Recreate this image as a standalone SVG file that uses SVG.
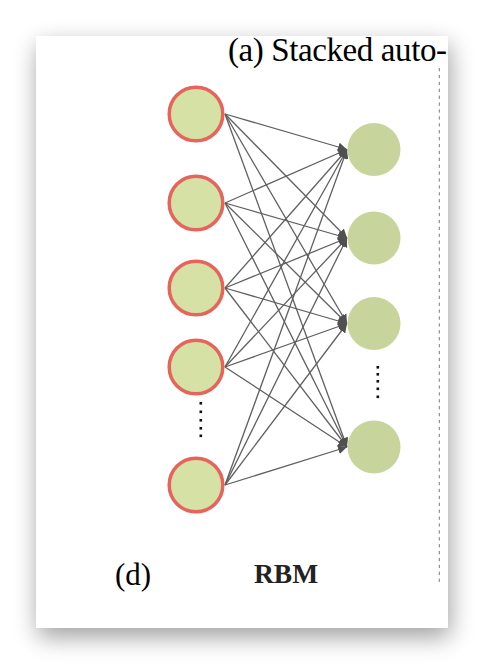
<svg xmlns="http://www.w3.org/2000/svg" width="484" height="664" viewBox="0 0 484 664">
  <defs>
    <filter id="shadow" x="-25%" y="-25%" width="150%" height="150%">
      <feGaussianBlur in="SourceAlpha" stdDeviation="12"/>
      <feOffset dx="2" dy="9" result="b"/>
      <feComponentTransfer><feFuncA type="linear" slope="0.38"/></feComponentTransfer>
      <feMerge><feMergeNode/><feMergeNode in="SourceGraphic"/></feMerge>
    </filter>
    <clipPath id="cardClip"><rect x="36" y="36" width="412" height="592"/></clipPath>
    <marker id="arr" markerUnits="userSpaceOnUse" markerWidth="10" markerHeight="10" refX="9" refY="5" orient="auto">
      <path d="M0,0.5 L9,5 L0,9.5 z" fill="#505050"/>
    </marker>
    <style>
      .vis { fill: #d6e1a6; stroke: #e6645c; stroke-width: 3.5; }
      .hid { fill: #c7d59c; stroke: none; }
      .edge { stroke: #606060; stroke-width: 1.3; fill: none; marker-end: url(#arr); }
      .dot { fill: #111; }
      .serif { font-family: "Liberation Serif", "Times New Roman", serif; }
    </style>
  </defs>
  <rect x="0" y="0" width="484" height="664" fill="#ffffff"/>
  <rect x="36" y="36" width="412" height="592" fill="#ffffff" filter="url(#shadow)"/>
  <g clip-path="url(#cardClip)">
    <text class="serif" x="228" y="60.5" font-size="33" fill="#000" textLength="219" lengthAdjust="spacing">(a) Stacked auto-</text>
    <line x1="439.3" y1="68" x2="439.3" y2="585" stroke="#7a7a7a" stroke-width="1" stroke-dasharray="3.3,3.6"/>

    <g id="connectors">
      <line class="edge" x1="225" y1="114" x2="347" y2="149.5"/>
      <line class="edge" x1="225" y1="114" x2="347" y2="238"/>
      <line class="edge" x1="225" y1="114" x2="347" y2="323.5"/>
      <line class="edge" x1="225" y1="114" x2="347" y2="447"/>
      <line class="edge" x1="225" y1="203" x2="347" y2="149.5"/>
      <line class="edge" x1="225" y1="203" x2="347" y2="238"/>
      <line class="edge" x1="225" y1="203" x2="347" y2="323.5"/>
      <line class="edge" x1="225" y1="203" x2="347" y2="447"/>
      <line class="edge" x1="225" y1="288" x2="347" y2="149.5"/>
      <line class="edge" x1="225" y1="288" x2="347" y2="238"/>
      <line class="edge" x1="225" y1="288" x2="347" y2="323.5"/>
      <line class="edge" x1="225" y1="288" x2="347" y2="447"/>
      <line class="edge" x1="225" y1="367" x2="347" y2="149.5"/>
      <line class="edge" x1="225" y1="367" x2="347" y2="238"/>
      <line class="edge" x1="225" y1="367" x2="347" y2="323.5"/>
      <line class="edge" x1="225" y1="367" x2="347" y2="447"/>
      <line class="edge" x1="225" y1="485" x2="347" y2="149.5"/>
      <line class="edge" x1="225" y1="485" x2="347" y2="238"/>
      <line class="edge" x1="225" y1="485" x2="347" y2="323.5"/>
      <line class="edge" x1="225" y1="485" x2="347" y2="447"/>
    </g>

    <g id="v1"><circle class="vis" cx="196" cy="114" r="26.8"/></g>
    <g id="v2"><circle class="vis" cx="196" cy="203" r="26.8"/></g>
    <g id="v3"><circle class="vis" cx="196" cy="288" r="26.8"/></g>
    <g id="v4"><circle class="vis" cx="196" cy="367" r="26.8"/></g>
    <g id="v5"><circle class="vis" cx="196" cy="485" r="26.8"/></g>
    <g id="vdots">
      <rect class="dot" x="199.5" y="402" width="2.6" height="2.6"/>
      <rect class="dot" x="199.5" y="410.5" width="2.6" height="2.6"/>
      <rect class="dot" x="199.5" y="419" width="2.6" height="2.6"/>
      <rect class="dot" x="199.5" y="427" width="2.6" height="2.6"/>
      <rect class="dot" x="199.5" y="434.5" width="2.6" height="2.6"/>
    </g>

    <g id="h1"><circle class="hid" cx="374" cy="149.5" r="26.5"/></g>
    <g id="h2"><circle class="hid" cx="374" cy="238" r="26.5"/></g>
    <g id="h3"><circle class="hid" cx="374" cy="323.5" r="26.5"/></g>
    <g id="h4"><circle class="hid" cx="374" cy="447" r="26.5"/></g>
    <g id="hdots">
      <rect class="dot" x="376.5" y="366" width="2.6" height="2.6"/>
      <rect class="dot" x="376.5" y="373" width="2.6" height="2.6"/>
      <rect class="dot" x="376.5" y="380" width="2.6" height="2.6"/>
      <rect class="dot" x="376.5" y="387.5" width="2.6" height="2.6"/>
      <rect class="dot" x="376.5" y="395.5" width="2.6" height="2.6"/>
    </g>

    <text class="serif" x="115" y="585" font-size="31" fill="#000">(d)</text>
    <text class="serif" x="254" y="583" font-size="27.5" font-weight="bold" fill="#222">RBM</text>
  </g>
</svg>
